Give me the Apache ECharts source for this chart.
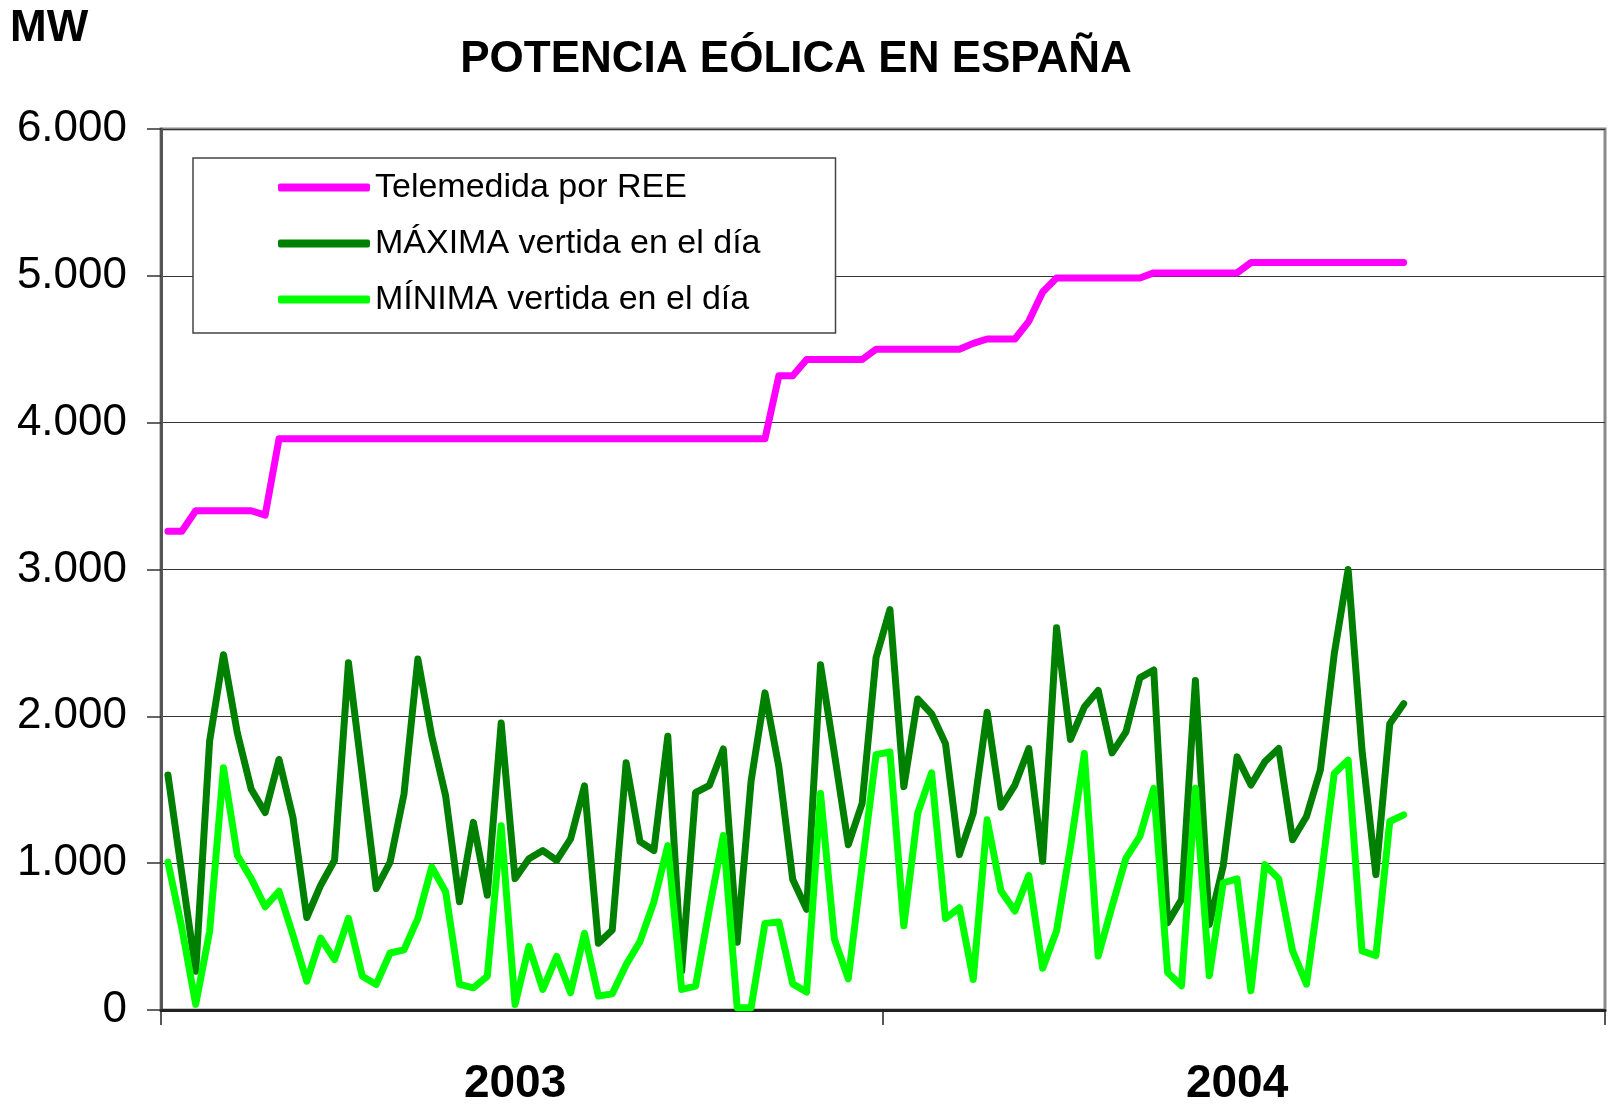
<!DOCTYPE html>
<html><head><meta charset="utf-8">
<script src="https://cdn.jsdelivr.net/npm/echarts@6/dist/echarts.min.js"></script>
<style>html,body{margin:0;padding:0;background:#fff}#c{width:1610px;height:1107px}</style>
</head><body><div id="c"></div>
<script>
// Category labels: weekly points over two years (52 weeks each)
const years = ['2003', '2004'];
const weeksPerYear = 52;
const categories = [];
years.forEach(y => { for (let w = 1; w <= weeksPerYear; w++) categories.push(y + '-S' + w); });

const seriesNames = ['Telemedida por REE', 'MÁXIMA vertida en el día', 'MÍNIMA vertida en el día'];

const telemedida = [
  3260, 3260, 3400, 3400, 3400, 3400, 3400, 3370, 3890, 3890,
  3890, 3890, 3890, 3890, 3890, 3890, 3890, 3890, 3890, 3890,
  3890, 3890, 3890, 3890, 3890, 3890, 3890, 3890, 3890, 3890,
  3890, 3890, 3890, 3890, 3890, 3890, 3890, 3890, 3890, 3890,
  3890, 3890, 3890, 3890, 4320, 4320, 4430, 4430, 4430, 4430,
  4430, 4500, 4500, 4500, 4500, 4500, 4500, 4500, 4540, 4570,
  4570, 4570, 4690, 4890, 4985, 4985, 4985, 4985, 4985, 4985,
  4985, 5020, 5020, 5020, 5020, 5020, 5020, 5020, 5090, 5090,
  5090, 5090, 5090, 5090, 5090, 5090, 5090, 5090, 5090, 5090
];

const maxima = [
  1600, 930, 264, 1830, 2420, 1886, 1503, 1345, 1706, 1312,
  630, 850, 1020, 2365, 1600, 827, 1007, 1470, 2390, 1864,
  1458, 737, 1278, 782, 1954, 895, 1030, 1086, 1019, 1165,
  1526, 455, 545, 1684, 1147, 1086, 1864, 264, 1481, 1530,
  1778, 462, 1560, 2160, 1656, 889, 686, 2351, 1746, 1126,
  1408, 2400, 2727, 1520, 2118, 2017, 1814, 1058, 1340, 2028,
  1381, 1532, 1780, 1013, 2603, 1843, 2063, 2176, 1751, 1894,
  2262, 2316, 594, 753, 2244, 583, 979, 1724, 1532, 1690,
  1781, 1159, 1318, 1634, 2425, 3000, 1769, 922, 1950, 2086
];

const minima = [
  1007, 560, 38, 534, 1650, 1052, 895, 703, 809, 512,
  196, 489, 343, 624, 230, 174, 388, 410, 624, 974,
  805, 174, 151, 230, 1255, 38, 433, 140, 365, 117,
  523, 95, 110, 309, 467, 737, 1120, 140, 162, 692,
  1188, 16, 16, 590, 600, 178, 122, 1475, 483, 212,
  990, 1739, 1757, 573, 1340, 1615, 623, 697, 208, 1295,
  810, 674, 916, 284, 539, 1110, 1747, 368, 707, 1035,
  1182, 1510, 255, 165, 1510, 233, 866, 893, 131, 990,
  893, 402, 176, 866, 1611, 1702, 402, 370, 1284, 1329
];

const colors = ['#FF00FF', '#008000', '#00FF00'];
const FONT = '"Liberation Sans", Arial, sans-serif';

const chart = echarts.init(document.getElementById('c'), null, {renderer: 'canvas'});
const lineStyleBase = {width: 7, cap: 'round', join: 'round'};

chart.setOption({
  animation: false,
  backgroundColor: '#fff',
  title: [
    {text: 'MW', left: 10, top: 7, padding: 0,
     textStyle: {fontFamily: FONT, fontSize: 44, fontWeight: 'bold', color: '#000', lineHeight: 44}},
    {text: 'POTENCIA EÓLICA EN ESPAÑA', left: 796, textAlign: 'center', top: 38, padding: 0,
     textStyle: {fontFamily: FONT, fontSize: 44, fontWeight: 'bold', color: '#000', lineHeight: 44}}
  ],
  legend: {
    orient: 'vertical', left: 193, top: 158,
    padding: [11, 75, 15, 85], itemGap: 19,
    itemWidth: 92, itemHeight: 8, icon: 'roundRect',
    borderColor: '#444', borderWidth: 1.5, backgroundColor: '#fff',
    textStyle: {fontFamily: FONT, fontSize: 34, lineHeight: 37, color: '#000'},
    data: seriesNames
  },
  grid: {left: 161, right: 5, top: 129, bottom: 97, show: true,
         borderColor: '#8a8a8a', borderWidth: 3, backgroundColor: 'transparent'},
  xAxis: {
    type: 'category', data: categories, boundaryGap: true,
    axisLine: {show: true, lineStyle: {color: '#222', width: 3}},
    axisTick: {show: true, length: 15, lineStyle: {color: '#222', width: 1.5},
               interval: (i) => i % weeksPerYear === 0},
    axisLabel: {interval: (i) => i % weeksPerYear === 25,
                formatter: (v) => v.slice(0, 4),
                fontFamily: FONT, fontSize: 46, fontWeight: 'bold', color: '#000',
                margin: 51, lineHeight: 46},
    splitLine: {show: false}
  },
  yAxis: {
    type: 'value', min: 0, max: 6000, interval: 1000,
    axisLine: {show: true, lineStyle: {color: '#555', width: 3}},
    axisTick: {show: true, length: 14, lineStyle: {color: '#333', width: 1.5}},
    axisLabel: {fontFamily: FONT, fontSize: 44, color: '#000', margin: 34,
                formatter: (v) => v === 0 ? '0' : (v / 1000).toFixed(0) + '.000'},
    splitLine: {show: true, lineStyle: {color: '#333', width: 1.2}}
  },
  series: [
    {name: seriesNames[0], type: 'line', data: telemedida, symbol: 'none', silent: true,
     itemStyle: {color: colors[0]}, lineStyle: Object.assign({color: colors[0]}, lineStyleBase)},
    {name: seriesNames[1], type: 'line', data: maxima, symbol: 'none', silent: true,
     itemStyle: {color: colors[1]}, lineStyle: Object.assign({color: colors[1]}, lineStyleBase)},
    {name: seriesNames[2], type: 'line', data: minima, symbol: 'none', silent: true,
     itemStyle: {color: colors[2]}, lineStyle: Object.assign({color: colors[2]}, lineStyleBase)}
  ]
});
</script>
</body></html>
